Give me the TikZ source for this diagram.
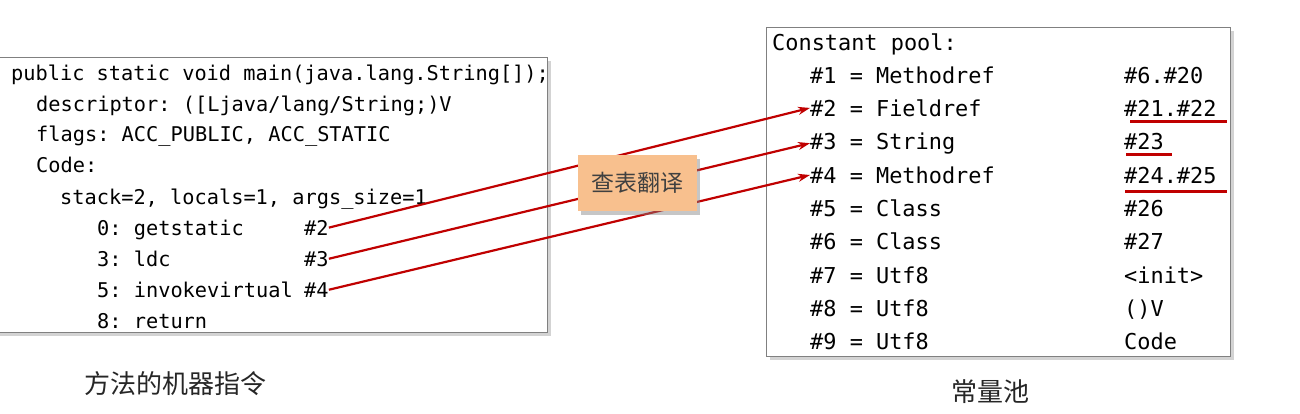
\documentclass[tikz,border=0pt]{standalone}
\usepackage{fontspec}
\setmonofont{DejaVu Sans Mono}
\newfontfamily\cjk{Noto Sans CJK SC}
\usetikzlibrary{arrows.meta,shadows}
\definecolor{arrowred}{RGB}{192,0,0}
\definecolor{boxgray}{RGB}{128,128,128}
\definecolor{orangefill}{RGB}{248,192,142}
\definecolor{txtgray}{RGB}{64,64,64}
\begin{document}
\begin{tikzpicture}[x=1pt,y=-1pt,
  codebox/.style={draw=boxgray,line width=1pt,fill=white,inner sep=0pt,anchor=north west,
    drop shadow={shadow xshift=3pt,shadow yshift=-3pt,opacity=0.35}},
  codeL/.style={anchor=mid west,inner sep=0pt,font=\fontsize{20.3}{24}\ttfamily},
  codeR/.style={anchor=mid west,inner sep=0pt,font=\fontsize{21.9}{26}\ttfamily},
  link/.style={draw=arrowred,line width=2.2pt,-{Stealth[length=12pt,width=8pt]}},
  uline/.style={draw=arrowred,line width=2.5pt},
  transbox/.style={fill=orangefill,minimum width=119pt,minimum height=56pt,inner sep=0pt,
    text=txtgray,font=\cjk\fontsize{23}{26}\selectfont,
    drop shadow={shadow xshift=3pt,shadow yshift=-4pt,opacity=0.45,fill=gray}},
  caption/.style={font=\cjk\fontsize{26}{30}\selectfont,text=black!85,inner sep=0pt}]
\useasboundingbox (0,0) rectangle (1300,413);
% boxes
\node[codebox,minimum width=552pt,minimum height=275pt] (lbox) at (-5,57) {};
\node[codebox,minimum width=464pt,minimum height=329pt] (rbox) at (766,27) {};
% left code
\node[codeL] (l1) at (11,78) {public static void main(java.lang.String[]);};
\node[codeL] (l2) at (36,109) {descriptor: ([Ljava/lang/String;)V};
\node[codeL] (l3) at (36,139) {flags: ACC\_PUBLIC, ACC\_STATIC};
\node[codeL] (l4) at (36,170) {Code:};
\node[codeL] (l5) at (60,202) {stack=2, locals=1, args\_size=1};
\node[codeL] (l6) at (97,233) {0: getstatic};
\node[codeL] (r2) at (304,233) {\#2};
\node[codeL] (l7) at (97,264) {3: ldc};
\node[codeL] (r3) at (304,264) {\#3};
\node[codeL] (l8) at (97,295) {5: invokevirtual};
\node[codeL] (r4) at (304,295) {\#4};
\node[codeL] (l9) at (97,326) {8: return};
% right code
\node[codeR] (cp) at (772,48) {Constant pool:};
\node[codeR] (c1) at (810,81) {\#1 = Methodref};
\node[codeR] (v1) at (1124,81) {\#6.\#20};
\node[codeR] (c2) at (810,114) {\#2 = Fieldref};
\node[codeR] (v2) at (1124,114) {\#21.\#22};
\node[codeR] (c3) at (810,147) {\#3 = String};
\node[codeR] (v3) at (1124,147) {\#23};
\node[codeR] (c4) at (810,181) {\#4 = Methodref};
\node[codeR] (v4) at (1124,181) {\#24.\#25};
\node[codeR] (c5) at (810,214) {\#5 = Class};
\node[codeR] (v5) at (1124,214) {\#26};
\node[codeR] (c6) at (810,247) {\#6 = Class};
\node[codeR] (v6) at (1124,247) {\#27};
\node[codeR] (c7) at (810,281) {\#7 = Utf8};
\node[codeR] (v7) at (1124,281) {<init>};
\node[codeR] (c8) at (810,314) {\#8 = Utf8};
\node[codeR] (v8) at (1124,314) {()V};
\node[codeR] (c9) at (810,347) {\#9 = Utf8};
\node[codeR] (v9) at (1124,347) {Code};
% underlines
\draw[uline] (v2.south west) ++(6,5) -- ++(97,0);
\draw[uline] (v3.south west) ++(2,5) -- ++(46,0);
\draw[uline] (v4.south west) ++(1,8) -- ++(102,0);
% arrows
\draw[link] (r2.east) -- (c2.west);
\draw[link] (r3.east) -- (c3.west);
\draw[link] (r4.east) -- (c4.west);
% translation box
\node[transbox] (tr) at (637.5,183) {查表翻译};
% captions
\node[caption] (capL) at (175,384) {方法的机器指令};
\node[caption] (capR) at (990,392) {常量池};
\end{tikzpicture}
\end{document}
